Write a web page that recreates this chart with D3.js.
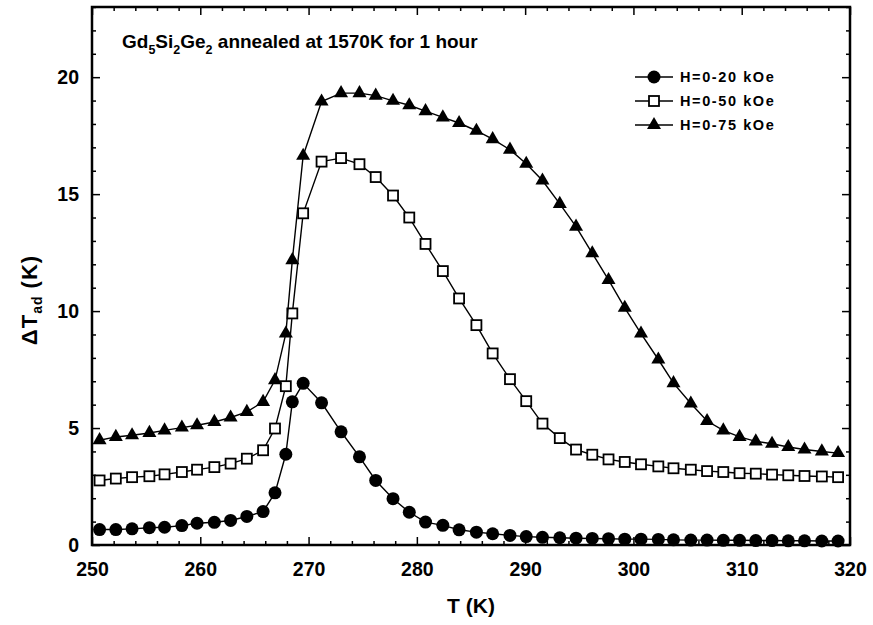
<!DOCTYPE html>
<html lang="en">
<head>
    <meta charset="UTF-8">
    <script src="https://cdn.jsdelivr.net/npm/d3@7"></script>
    <title>Gd5Si2Ge2 adiabatic temperature change</title>
    <style>
        html, body {
            margin: 0px;
            padding: 0px;
            background-color: #ffffff;
        }
        svg text {
            font-family: "Liberation Sans", Arial, sans-serif;
            font-weight: bold;
            fill: #000;
        }
    </style>
</head>
<body>
    <div id="chart"></div>

    <script>
        // temperatures (K)
        const temps = [250.7, 252.2, 253.7, 255.3, 256.7, 258.3, 259.7, 261.3, 262.8, 264.3,
            265.8, 266.9, 267.9, 268.5, 269.5, 271.2, 273.0, 274.7, 276.2, 277.8,
            279.3, 280.8, 282.4, 283.9, 285.5, 287.0, 288.6, 290.1, 291.6, 293.2,
            294.7, 296.2, 297.7, 299.2, 300.7, 302.3, 303.7, 305.3, 306.8, 308.3,
            309.8, 311.3, 312.8, 314.3, 315.8, 317.4, 318.9];

        // delta T_ad (K) for each field change
        const dt20 = [0.66, 0.66, 0.69, 0.74, 0.76, 0.83, 0.93, 0.97, 1.05, 1.22,
            1.43, 2.23, 3.88, 6.12, 6.91, 6.08, 4.84, 3.77, 2.76, 1.98,
            1.40, 0.98, 0.84, 0.65, 0.55, 0.48, 0.41, 0.36, 0.33, 0.31,
            0.29, 0.28, 0.27, 0.25, 0.25, 0.24, 0.22, 0.21, 0.21, 0.20,
            0.20, 0.19, 0.19, 0.18, 0.18, 0.17, 0.17];
        const dt50 = [2.76, 2.84, 2.90, 2.94, 3.02, 3.12, 3.22, 3.33, 3.48, 3.69,
            4.05, 4.98, 6.79, 9.90, 14.18, 16.39, 16.54, 16.28, 15.73, 14.94,
            14.00, 12.87, 11.71, 10.54, 9.40, 8.19, 7.09, 6.15, 5.19, 4.57,
            4.08, 3.86, 3.66, 3.55, 3.45, 3.36, 3.28, 3.22, 3.16, 3.12,
            3.07, 3.05, 3.01, 2.98, 2.95, 2.93, 2.90];
        const dt75 = [4.48, 4.62, 4.69, 4.79, 4.90, 5.02, 5.12, 5.26, 5.45, 5.69,
            6.12, 7.05, 9.04, 12.18, 16.64, 18.96, 19.32, 19.32, 19.21, 18.99,
            18.80, 18.55, 18.28, 18.04, 17.71, 17.35, 16.90, 16.30, 15.58, 14.58,
            13.61, 12.47, 11.33, 10.14, 9.04, 7.93, 6.92, 6.05, 5.30, 4.90,
            4.62, 4.43, 4.33, 4.19, 4.08, 4.00, 3.93];

        const seriesNames = ['H=0-20 kOe', 'H=0-50 kOe', 'H=0-75 kOe'];
        const xTicks = [250, 260, 270, 280, 290, 300, 310, 320];
        const yTicks = [0, 5, 10, 15, 20];

        let width = 873;
        let height = 625;
        let margin = {top: 7, right: 23, bottom: 80, left: 92};
        let innerW = width - margin.left - margin.right;
        let innerH = height - margin.top - margin.bottom;

        let svg = d3.select('#chart').append('svg')
            .attr('width', width).attr('height', height);
        let g = svg.append('g').attr('transform', `translate(${margin.left},${margin.top})`);

        let x = d3.scaleLinear().domain([250, 320]).range([0, innerW]);
        let y = d3.scaleLinear().domain([0, 23]).range([innerH, 0]);

        let xMinor = d3.range(250, 321, 2).filter(v => v % 10 !== 0);
        let yMinor = d3.range(0, 23.01, 1).filter(v => v % 5 !== 0);

        function styleAxis(sel) {
            sel.select('.domain').remove();
            sel.selectAll('line').attr('stroke', '#000').attr('stroke-width', 1.5);
        }

        // bottom / top
        g.append('g').attr('transform', `translate(0,${innerH})`)
            .call(d3.axisBottom(x).tickValues(xTicks).tickSize(-8).tickPadding(17).tickFormat(d3.format('d')))
            .call(styleAxis)
            .selectAll('text').attr('font-size', 19.5);
        g.append('g').attr('transform', `translate(0,${innerH})`)
            .call(d3.axisBottom(x).tickValues(xMinor).tickSize(-4).tickFormat(''))
            .call(styleAxis);
        g.append('g')
            .call(d3.axisTop(x).tickValues(xTicks).tickSize(-8).tickFormat(''))
            .call(styleAxis);
        g.append('g')
            .call(d3.axisTop(x).tickValues(xMinor).tickSize(-4).tickFormat(''))
            .call(styleAxis);

        // left / right
        g.append('g')
            .call(d3.axisLeft(y).tickValues(yTicks).tickSize(-8).tickPadding(13).tickFormat(d3.format('d')))
            .call(styleAxis)
            .selectAll('text').attr('font-size', 19.5);
        g.append('g')
            .call(d3.axisLeft(y).tickValues(yMinor).tickSize(-4).tickFormat(''))
            .call(styleAxis);
        g.append('g').attr('transform', `translate(${innerW},0)`)
            .call(d3.axisRight(y).tickValues(yTicks).tickSize(-8).tickFormat(''))
            .call(styleAxis);
        g.append('g').attr('transform', `translate(${innerW},0)`)
            .call(d3.axisRight(y).tickValues(yMinor).tickSize(-4).tickFormat(''))
            .call(styleAxis);

        g.append('rect')
            .attr('width', innerW).attr('height', innerH)
            .attr('fill', 'none').attr('stroke', '#000').attr('stroke-width', 2.5);

        // series
        let series = [
            {name: seriesNames[0], values: dt20, shape: 'circle'},
            {name: seriesNames[1], values: dt50, shape: 'square'},
            {name: seriesNames[2], values: dt75, shape: 'triangle'}
        ];

        function drawMarker(sel, shape) {
            if (shape === 'circle') {
                sel.append('circle').attr('r', 6.5).attr('fill', '#000');
            } else if (shape === 'square') {
                sel.append('rect').attr('x', -5).attr('y', -5).attr('width', 10).attr('height', 10)
                    .attr('fill', '#fff').attr('stroke', '#000').attr('stroke-width', 1.8);
            } else {
                sel.append('path').attr('d', d3.symbol(d3.symbolTriangle, 85)).attr('fill', '#000');
            }
        }

        let line = d3.line().x(d => x(d[0])).y(d => y(d[1]));

        series.forEach(s => {
            let pts = temps.map((t, i) => [t, s.values[i]]);
            g.append('path').datum(pts)
                .attr('d', line)
                .attr('fill', 'none').attr('stroke', '#000').attr('stroke-width', 1.4);
            g.append('g').selectAll('g')
                .data(pts)
                .join('g')
                .attr('transform', d => `translate(${x(d[0])},${y(d[1])})`)
                .each(function () { drawMarker(d3.select(this), s.shape); });
        });

        // legend
        let legend = g.append('g').attr('transform', `translate(${635 - margin.left},${77 - margin.top})`);
        series.forEach((s, i) => {
            let row = legend.append('g').attr('transform', `translate(0,${i * 24})`);
            row.append('line').attr('x1', 0).attr('x2', 38).attr('stroke', '#000').attr('stroke-width', 1.4);
            drawMarker(row.append('g').attr('transform', 'translate(19,0)'), s.shape);
            row.append('text').attr('x', 45).attr('dy', '0.35em')
                .attr('font-size', 14.5).attr('letter-spacing', 1.6)
                .text(s.name);
        });

        // title
        let title = svg.append('text').attr('x', 122).attr('y', 48).attr('font-size', 19);
        title.append('tspan').text('Gd');
        title.append('tspan').attr('font-size', 12.5).attr('dy', 6).text('5');
        title.append('tspan').attr('dy', -6).text('Si');
        title.append('tspan').attr('font-size', 12.5).attr('dy', 6).text('2');
        title.append('tspan').attr('dy', -6).text('Ge');
        title.append('tspan').attr('font-size', 12.5).attr('dy', 6).text('2');
        title.append('tspan').attr('dy', -6).text(' annealed at 1570K for 1 hour');

        // axis titles
        svg.append('text')
            .attr('x', margin.left + innerW / 2).attr('y', 613)
            .attr('text-anchor', 'middle').attr('font-size', 21)
            .text('T (K)');

        let yl = svg.append('text')
            .attr('transform', 'translate(37,300) rotate(-90)')
            .attr('text-anchor', 'middle').attr('font-size', 22).attr('letter-spacing', 1);
        yl.append('tspan').text('\u0394T');
        yl.append('tspan').attr('font-size', 14).attr('dy', 5).text('ad');
        yl.append('tspan').attr('dy', -5).text(' (K)');
    </script>
</body>
</html>
